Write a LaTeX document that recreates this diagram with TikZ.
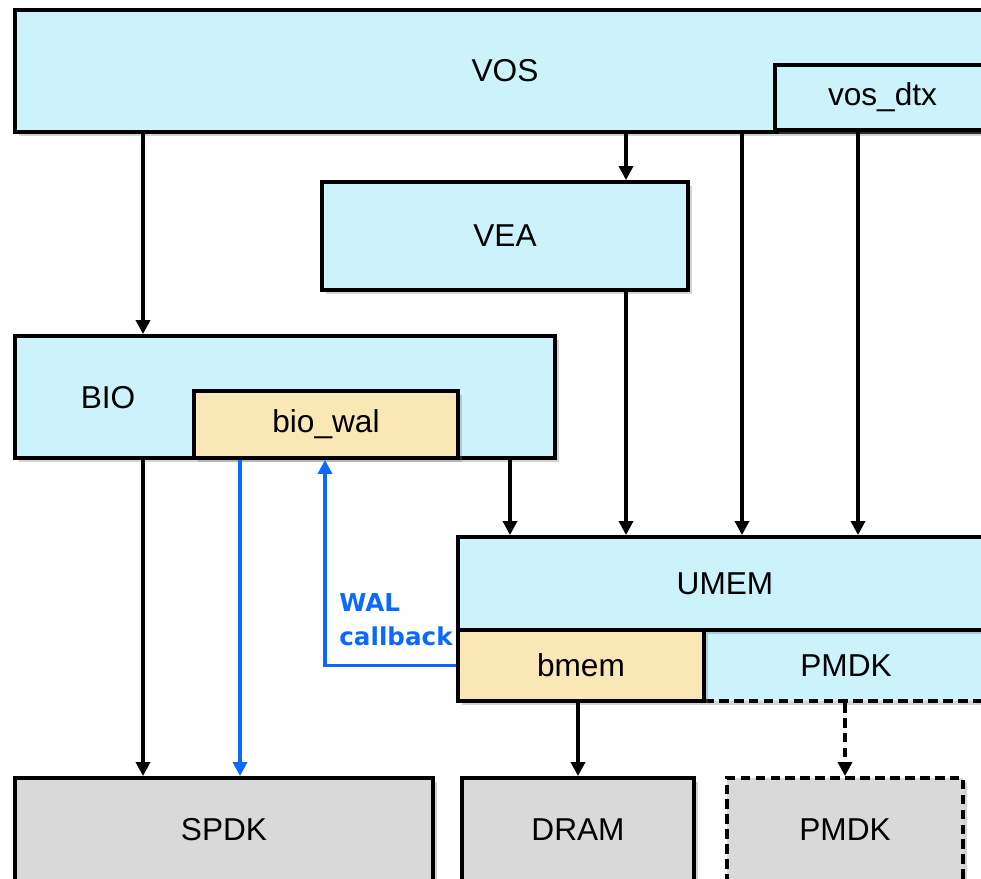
\documentclass[tikz,border=0pt]{standalone}
\usepackage{fontspec}
\setmainfont{Liberation Sans}
\newfontfamily\cbfont{DejaVu Sans}
\usetikzlibrary{arrows.meta,shadows}
\definecolor{boxblue}{RGB}{204,242,252}
\definecolor{boxtan}{RGB}{250,231,182}
\definecolor{boxgray}{RGB}{217,217,217}
\definecolor{cbblue}{RGB}{10,105,255}
\begin{document}
\begin{tikzpicture}[
  blk/.style={draw, line width=2.2pt, inner sep=0pt, font=\fontsize{18}{20}\selectfont,
    drop shadow={shadow xshift=.08cm, shadow yshift=-.08cm, opacity=.35}},
  arr/.style={line width=1.9pt, -{Triangle[width=8pt,length=8pt]}},
  cb/.style={arr, cbblue},
  dsh/.style={dash pattern=on 5.5pt off 3pt}
  ]
  \clip (0,0) rectangle (19.62,-17.58);
  % top layers
  \node[blk, fill=boxblue, minimum width=19.6cm, minimum height=2.44cm] (vos) at (10.1,-1.42) {VOS};
  \node[blk, fill=boxblue, minimum width=4.3cm, minimum height=1.3cm] (vosdtx) at (17.65,-1.95) {vos\_dtx};
  \node[blk, fill=boxblue, minimum width=7.32cm, minimum height=2.16cm] (vea) at (10.1,-4.72) {VEA};
  \node[blk, fill=boxblue, minimum width=10.8cm, minimum height=2.44cm] (bio) at (5.7,-7.94) {};
  \node[font=\fontsize{18}{20}\selectfont] (biolbl) at (2.16,-7.96) {BIO};
  \node[blk, fill=boxtan, minimum width=5.28cm, minimum height=1.34cm] (biowal) at (6.52,-8.49) {bio\_wal};
  % umem
  \node[blk, dsh, fill=boxblue, minimum width=5.68cm, minimum height=1.42cm] (pmdkin) at (16.92,-13.31) {PMDK};
  \node[blk, fill=boxblue, minimum width=10.68cm, minimum height=1.86cm] (umem) at (14.5,-11.67) {UMEM};
  \node[blk, fill=boxtan, minimum width=4.92cm, minimum height=1.42cm] (bmem) at (11.62,-13.31) {bmem};
  % backends
  \node[blk, fill=boxgray, minimum width=8.36cm, minimum height=2.08cm] (spdk) at (4.48,-16.6) {SPDK};
  \node[blk, fill=boxgray, minimum width=4.64cm, minimum height=2.08cm] (dram) at (11.56,-16.6) {DRAM};
  \node[blk, dsh, fill=boxgray, minimum width=4.72cm, minimum height=2.08cm] (pmdk) at (16.9,-16.6) {PMDK};

  \draw[arr] (vos.south -| 2.86,0) -- (bio.north -| 2.86,0);
  \draw[arr] (vos.south -| 12.52,0) -- (vea.north -| 12.52,0);
  \draw[arr] (vos.south -| 14.84,0) -- (umem.north -| 14.84,0);
  \draw[arr] (vosdtx.south -| 17.16,0) -- (umem.north -| 17.16,0);
  \draw[arr] (vea.south -| 12.52,0) -- (umem.north -| 12.52,0);
  \draw[arr] (bio.south -| 10.2,0) -- (umem.north -| 10.2,0);
  \draw[arr] (bio.south -| 2.86,0) -- (spdk.north -| 2.86,0);
  \draw[arr] (bmem.south -| dram.north) -- (dram.north);
  \draw[arr, dsh] (pmdkin.south -| pmdk.north) -- (pmdk.north);
  % wal path
  \draw[cb] (biowal.south -| 4.8,0) -- (spdk.north -| 4.8,0);
  \draw[cb] (bmem.west) -| (biowal.south -| 6.5,0);
  \node[text=cbblue, align=left, font=\cbfont\bfseries\fontsize{14}{19.5}\selectfont] (wallbl) at (7.92,-12.4) {WAL\\callback};
\end{tikzpicture}
\end{document}
